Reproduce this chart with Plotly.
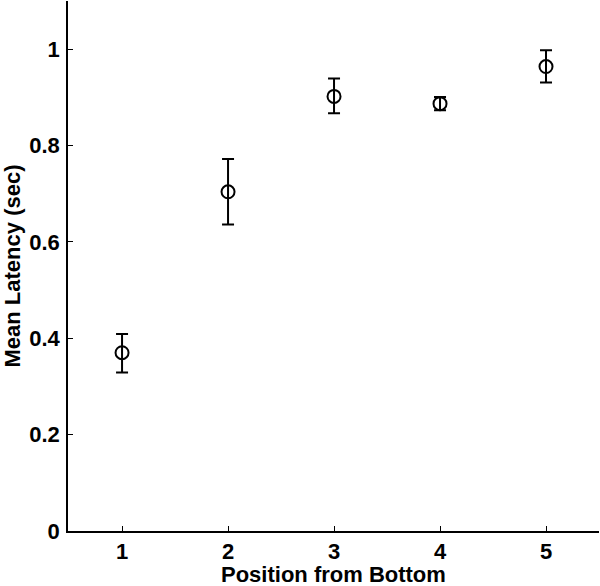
import plotly.graph_objects as go

positions = [1, 2, 3, 4, 5]
mean_latency = [0.370, 0.704, 0.902, 0.887, 0.964]
err_plus = [0.039, 0.068, 0.037, 0.014, 0.034]
err_minus = [0.041, 0.068, 0.035, 0.014, 0.033]
x_ticks = [1, 2, 3, 4, 5]
y_ticks = [0, 0.2, 0.4, 0.6, 0.8, 1]
y_tick_labels = ["0", "0.2", "0.4", "0.6", "0.8", "1"]
x_title = "Position from Bottom"
y_title = "Mean Latency (sec)"

font_family = "Liberation Sans, Arial, Helvetica, sans-serif"
fs = 22

fig = go.Figure(
    go.Scatter(
        x=positions,
        y=mean_latency,
        mode="markers",
        marker=dict(symbol="circle-open", size=13, color="black", line=dict(width=2, color="black")),
        error_y=dict(
            type="data",
            symmetric=False,
            array=err_plus,
            arrayminus=err_minus,
            color="black",
            thickness=2,
            width=6,
        ),
        showlegend=False,
    )
)

fig.update_layout(
    width=600,
    height=586,
    margin=dict(l=68, r=1, t=1, b=55),
    paper_bgcolor="white",
    plot_bgcolor="white",
    font=dict(family=font_family, size=fs, color="black"),
    xaxis=dict(
        range=[0.49, 5.5],
        tickvals=x_ticks,
        ticks="inside",
        ticklen=5,
        tickwidth=1,
        tickcolor="black",
        showline=True,
        linecolor="black",
        linewidth=1.5,
        showgrid=False,
        zeroline=False,
        automargin=False,
        ticklabelstandoff=0,
        tickfont=dict(family=font_family, size=fs, color="black", weight="bold"),
    ),
    yaxis=dict(
        range=[0, 1.1],
        tickvals=y_ticks,
        ticktext=y_tick_labels,
        ticks="inside",
        ticklen=5,
        tickwidth=1,
        tickcolor="black",
        showline=True,
        linecolor="black",
        linewidth=1.5,
        showgrid=False,
        zeroline=False,
        automargin=False,
        ticklabelstandoff=2,
        tickfont=dict(family=font_family, size=fs, color="black", weight="bold"),
        title=dict(text="<b>" + y_title + "</b>", font=dict(family=font_family, size=fs), standoff=14),
    ),
    annotations=[
        dict(
            text="<b>" + x_title + "</b>",
            xref="paper", yref="paper",
            x=0.5, y=0,
            xanchor="center", yanchor="bottom",
            yshift=-58,
            showarrow=False,
            font=dict(family=font_family, size=fs, color="black"),
        )
    ],
)

fig.write_html(
    "out.html",
    config={"displayModeBar": False},
    post_script="document.body.style.margin='0';",
)
